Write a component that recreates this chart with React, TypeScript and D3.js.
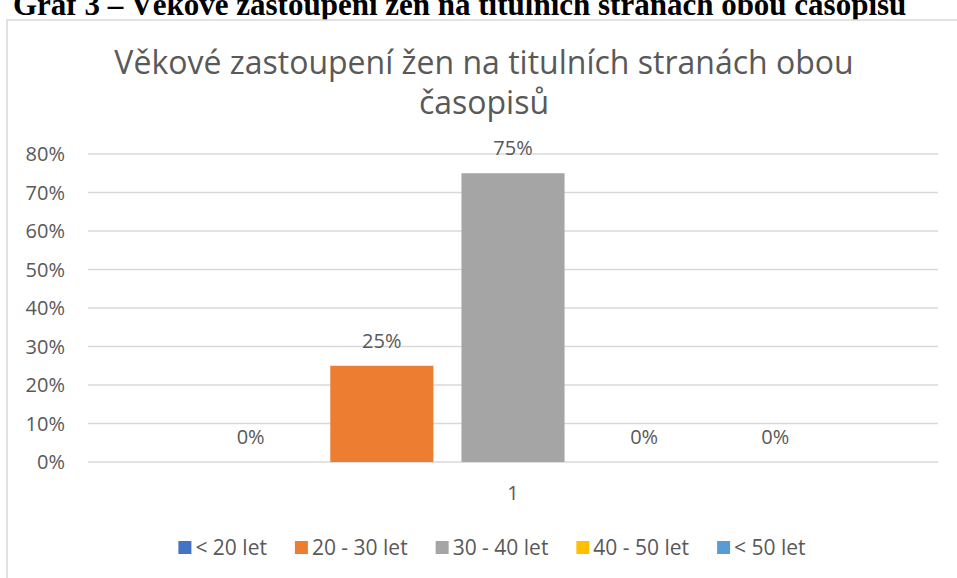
import React from 'react';
import * as d3 from 'd3';

const categories = ['1'];
const seriesNames = ['< 20 let', '20 - 30 let', '30 - 40 let', '40 - 50 let', '< 50 let'];
const seriesValues = [0, 0.25, 0.75, 0, 0];
const seriesColors = ['#4472C4', '#ED7D31', '#A5A5A5', '#FFC000', '#5B9BD5'];
const yTickValues = [0, 0.1, 0.2, 0.3, 0.4, 0.5, 0.6, 0.7, 0.8];

const width = 957;
const height = 578;
const plotLeft = 88;
const plotRight = 938;
const plotTop = 154;
const plotBottom = 462;
const fontFamily = '"Open Sans", "Noto Sans", sans-serif';
const textColor = '#595959';
const gridColor = '#d9d9d9';

const measure = (txt: string, size: number) => {
  const ctx = document.createElement('canvas').getContext('2d');
  if (!ctx) return txt.length * size * 0.5;
  ctx.font = `${size}px ${fontFamily}`;
  return ctx.measureText(txt).width;
};

const App: React.FC = () => {
  const yScale = d3.scaleLinear().domain([0, 0.8]).range([plotBottom, plotTop]);
  const x0 = d3.scaleBand().domain(categories).range([plotLeft, plotRight]).paddingInner(0).paddingOuter(0.177);
  const x1 = d3.scaleBand().domain(seriesNames).range([0, x0.bandwidth()]).paddingInner(0.214).paddingOuter(0);
  const pct = d3.format('.0%');

  // legend, centred on the chart area
  const legendSize = 21;
  const sq = 13;
  const items = seriesNames.map(n => ({name: n, w: sq + 4 + measure(n, legendSize)}));
  const gap = 28;
  const total = d3.sum(items, d => d.w) + gap * (items.length - 1);
  let cursor = 492 - total / 2;
  const legendPos = items.map(it => {
    const p = cursor;
    cursor += it.w + gap;
    return p;
  });

  return (
    <div style={{position: 'fixed', left: 0, top: 0}}>
      <svg width={width} height={height} style={{display: 'block', background: 'white'}}>
        <text x={13} y={15} fontFamily='"Liberation Serif", serif' fontWeight="bold" fontSize={31} fill="black">
          Graf 3 – Věkové zastoupení žen na titulních stranách obou časopisů
        </text>
        <rect x={7} y={20} width={width + 20} height={height + 20} fill="white" stroke={gridColor} strokeWidth={1.5}/>
        <text x={484} y={74} textAnchor="middle" fontFamily={fontFamily} fontSize={32} fill={textColor}>
          Věkové zastoupení žen na titulních stranách obou
        </text>
        <text x={484} y={114} textAnchor="middle" fontFamily={fontFamily} fontSize={32} fill={textColor}>
          časopisů
        </text>

        {yTickValues.map(v => (
          <g key={v} transform={`translate(0, ${yScale(v)})`}>
            <line x1={plotLeft} x2={plotRight} stroke={gridColor} strokeWidth={1.5}/>
            <text x={65} dy="0.35em" textAnchor="end" fontFamily={fontFamily} fontSize={20} fill={textColor}>{pct(v)}</text>
          </g>
        ))}

        {categories.map(c => (
          <g key={c} transform={`translate(${x0(c)}, 0)`}>
            {seriesNames.map((s, i) => {
              const x = x1(s) as number;
              const v = seriesValues[i];
              return (
                <g key={s}>
                  <rect x={x} y={yScale(v)} width={x1.bandwidth()} height={plotBottom - yScale(v)} fill={seriesColors[i]}/>
                  <text x={x + x1.bandwidth() / 2} y={yScale(v) - 18} textAnchor="middle" fontFamily={fontFamily} fontSize={20} fill={textColor}>{pct(v)}</text>
                </g>
              );
            })}
            <text x={x0.bandwidth() / 2} y={500} textAnchor="middle" fontFamily={fontFamily} fontSize={20} fill={textColor}>{c}</text>
          </g>
        ))}

        {items.map((it, i) => (
          <g key={it.name} transform={`translate(${legendPos[i]}, 0)`}>
            <rect x={0} y={541} width={sq} height={sq} fill={seriesColors[i]}/>
            <text x={sq + 4} y={555} fontFamily={fontFamily} fontSize={legendSize} fill={textColor}>{it.name}</text>
          </g>
        ))}
      </svg>
    </div>
  );
};

export default App;
